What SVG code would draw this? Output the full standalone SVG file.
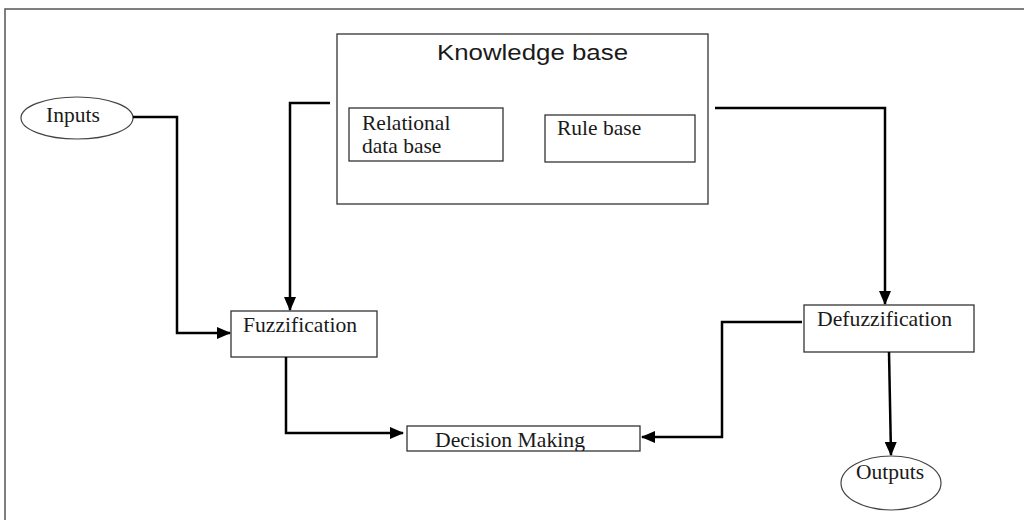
<svg xmlns="http://www.w3.org/2000/svg" width="1024" height="520" viewBox="0 0 1024 520">
<style>
.box{fill:#fff;stroke:#333;stroke-width:1.3}
.ell{fill:#fff;stroke:#444;stroke-width:1.2}
.t{font-family:'Liberation Serif','DejaVu Serif',serif;font-size:21.5px;fill:#1a1a1a}
.s{font-family:'Liberation Sans','DejaVu Sans',sans-serif;font-size:22px;fill:#1a1a1a}
.c{fill:none;stroke:#000;stroke-width:2.5}
</style>
<defs>
<marker id="ah" markerWidth="14" markerHeight="12" refX="13" refY="6" orient="auto" markerUnits="userSpaceOnUse">
<path d="M0,0 L14,6 L0,12 Z" fill="#000"/>
</marker>
<clipPath id="dmclip"><rect x="407" y="426" width="233" height="25"/></clipPath>
</defs>
<rect x="5" y="9" width="1030" height="520" fill="none" stroke="#555" stroke-width="1.5"/>
<g id="knowledge-base">
<rect class="box" x="337" y="34" width="371" height="170"/>
<text class="s" font-family="Liberation Sans, sans-serif" x="437" y="60" textLength="191" lengthAdjust="spacingAndGlyphs">Knowledge base</text>
</g>
<g id="relational-data-base">
<rect class="box" x="349" y="108" width="154" height="53"/>
<text class="t" font-family="Liberation Serif, serif" x="362" y="130">Relational</text>
<text class="t" font-family="Liberation Serif, serif" x="362" y="153">data base</text>
</g>
<g id="rule-base">
<rect class="box" x="545" y="115" width="150" height="47"/>
<text class="t" font-family="Liberation Serif, serif" x="557" y="135">Rule base</text>
</g>
<g id="inputs">
<ellipse class="ell" cx="77" cy="118" rx="56" ry="21"/>
<text class="t" font-family="Liberation Serif, serif" x="46" y="122">Inputs</text>
</g>
<g id="fuzzification">
<rect class="box" x="231" y="311" width="146" height="46"/>
<text class="t" font-family="Liberation Serif, serif" x="243" y="332" textLength="114" lengthAdjust="spacingAndGlyphs">Fuzzification</text>
</g>
<g id="defuzzification">
<rect class="box" x="804" y="305" width="170" height="47"/>
<text class="t" font-family="Liberation Serif, serif" x="817" y="326" textLength="135" lengthAdjust="spacingAndGlyphs">Defuzzification</text>
</g>
<g id="decision-making">
<rect class="box" x="407" y="426" width="233" height="25"/>
<text class="t" font-family="Liberation Serif, serif" x="435" y="447" textLength="150" lengthAdjust="spacingAndGlyphs" clip-path="url(#dmclip)">Decision Making</text>
</g>
<g id="outputs">
<ellipse class="ell" cx="891" cy="483" rx="50" ry="27"/>
<text class="t" font-family="Liberation Serif, serif" x="856" y="479" textLength="68" lengthAdjust="spacingAndGlyphs">Outputs</text>
</g>
<g id="connectors">
<polyline class="c" points="133,117 177,117 177,333 230,333" marker-end="url(#ah)"/>
<polyline class="c" points="330,103 290,103 290,310" marker-end="url(#ah)"/>
<polyline class="c" points="715,108 885,108 885,304" marker-end="url(#ah)"/>
<polyline class="c" points="286,357 286,433 403,433" marker-end="url(#ah)"/>
<polyline class="c" points="802,322 722,322 722,437 642,437" marker-end="url(#ah)"/>
<polyline class="c" points="889,352 891,455" marker-end="url(#ah)"/>
</g>
</svg>
